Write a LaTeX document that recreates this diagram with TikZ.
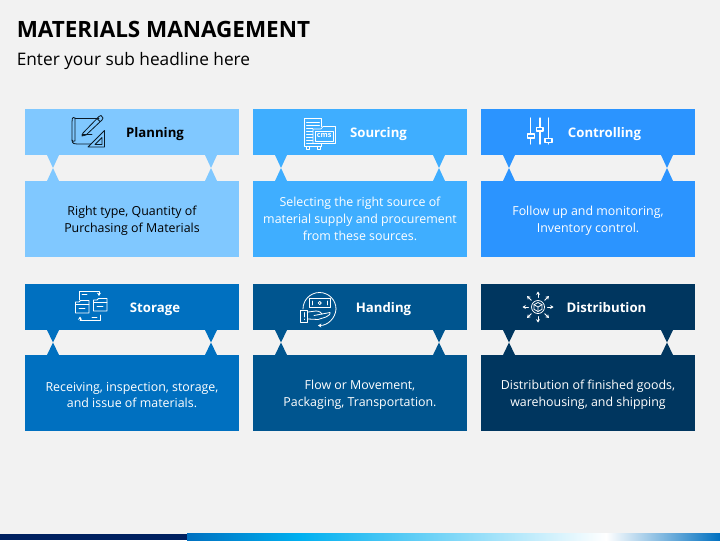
\documentclass[tikz,border=0pt]{standalone}
\usepackage{fontspec}
\setmainfont{Open Sans}
\usetikzlibrary{arrows.meta,calc}
\definecolor{bgc}{HTML}{F2F2F2}
\definecolor{cA}{HTML}{80C8FF}
\definecolor{cB}{HTML}{3FAEFF}
\definecolor{cC}{HTML}{2B94FF}
\definecolor{cD}{HTML}{0070C0}
\definecolor{cE}{HTML}{00558F}
\definecolor{cF}{HTML}{00365F}
\definecolor{inkA}{HTML}{0B1A26}
\definecolor{sN}{HTML}{002060}
\definecolor{sA}{HTML}{0070C0}
\definecolor{sB}{HTML}{00B0F0}
\definecolor{sC}{HTML}{FFFFFF}
\tikzset{
  headbox/.style={anchor=north west,minimum width=160.5pt,minimum height=34.5pt,inner sep=0pt,outer sep=0pt},
  bodybox/.style={anchor=north west,minimum width=160.5pt,minimum height=57pt,inner sep=0pt,outer sep=0pt},
  bodytext/.style={inner sep=0pt,align=center,text=white,font=\fontsize{9.3pt}{12.6pt}\selectfont},
  headtext/.style={inner sep=0pt,text=white,font=\fontsize{9.9pt}{12pt}\selectfont\bfseries},
  icon/.style={line width=0.6pt,line join=round,line cap=round}
}
% bow tie at centre x, between y-top and y-bottom (pixels)
\newcommand{\tiepair}[4]{\fill[#4] (#1-6,#2) -- (#1+6,#2) -- (#1,{(#2+#3)/2}) -- (#1+6,#3) -- (#1-6,#3) -- (#1,{(#2+#3)/2}) -- cycle;}
\begin{document}
\begin{tikzpicture}[x=0.75pt,y=-0.75pt]
\useasboundingbox (0,0) rectangle (720,540);
\fill[bgc] (0,0) rectangle (720,540);
% title
\node[anchor=west,inner sep=0pt,font=\fontsize{16.85pt}{20pt}\selectfont\bfseries,text=black] (title) at (16.5,29) {MATERIALS MANAGEMENT};
\node[anchor=west,inner sep=0pt,font=\fontsize{12.95pt}{15pt}\selectfont,text=black] (subtitle) at (16.5,61.5) {Enter your sub headline here};
% row 1
\node[headbox,fill=cA] (h1) at (25,109) {};
\node[headbox,fill=cB] (h2) at (253,109) {};
\node[headbox,fill=cC] (h3) at (481,109) {};
\node[bodybox,fill=cA] (b1) at (25,181) {};
\node[bodybox,fill=cB] (b2) at (253,181) {};
\node[bodybox,fill=cC] (b3) at (481,181) {};
\node[bodytext,text=black] (bt1) at (132,221) {Right type, Quantity of\\Purchasing of Materials};
\node[bodytext] (bt2) at (360,219) {Selecting the right source of\\material supply and procurement\\from these sources.};
\node[bodytext] (bt3) at (588,221) {Follow up and monitoring,\\Inventory control.};
% row 2
\node[headbox,fill=cD] (h4) at (25,284) {};
\node[headbox,fill=cE] (h5) at (253,284) {};
\node[headbox,fill=cF] (h6) at (481,284) {};
\node[bodybox,fill=cD] (b4) at (25,355) {};
\node[bodybox,fill=cE] (b5) at (253,355) {};
\node[bodybox,fill=cF] (b6) at (481,355) {};
\node[bodytext] (bt4) at (132,395) {Receiving, inspection, storage,\\and issue of materials.};
\node[bodytext] (bt5) at (360,395) {Flow or Movement,\\Packaging, Transportation.};
\node[bodytext] (bt6) at (588,395) {Distribution of finished goods,\\warehousing, and shipping};
% bow ties
\tiepair{53}{155}{181}{cA}\tiepair{211}{155}{181}{cA}
\tiepair{281}{155}{181}{cB}\tiepair{439}{155}{181}{cB}
\tiepair{509}{155}{181}{cC}\tiepair{667}{155}{181}{cC}
\tiepair{53}{330}{355}{cD}\tiepair{211}{330}{355}{cD}
\tiepair{281}{330}{355}{cE}\tiepair{439}{330}{355}{cE}
\tiepair{509}{330}{355}{cF}\tiepair{667}{330}{355}{cF}
% heading labels
\node[headtext,text=black] (t1) at (155,134) {Planning};
\node[headtext] (t2) at (378.5,134) {Sourcing};
\node[headtext] (t3) at (604.5,134) {Controlling};
\node[headtext] (t4) at (155,309) {Storage};
\node[headtext] (t5) at (383.5,309) {Handing};
\node[headtext] (t6) at (606.5,307.5) {Distribution};
% icon: planning
\begin{scope}[icon,draw=inkA]
\draw (75,118) -- (99,118);
\draw (75,118) .. controls (72,116) and (72,120) .. (72,122) -- (72,140) .. controls (72,144) and (75,144) .. (77,144) -- (91,144);
\draw (75,118) -- (75,141) .. controls (73,141) and (72,142) .. (72,140);
\draw (83,133) -- (99,116.5) -- (101,115.5) -- (103,118) -- (102,120) -- (86,135) -- (82,136) -- cycle;
\draw (97,118.5) -- (100,121.5);
\draw (82,134) -- (92,134);
\fill[cA] (88,147) -- (104.5,130.5) -- (104.5,147) -- cycle;
\draw (88,147) -- (104.5,130.5) -- (104.5,147) -- cycle;
\draw (95,144.5) -- (102,137.5) -- (102,144.5) -- cycle;
\end{scope}
% icon: sourcing
\begin{scope}[icon,draw=white,line width=0.5pt]
\draw (304.5,118.5) rectangle (321.5,146.5);
\foreach \yy in {122,125,128,131,134,137,140,143}{\draw (306.5,\yy) -- (319.5,\yy);}
\draw (306,146.5) -- (306,149) -- (309,149) -- (309,146.5);
\draw (317,146.5) -- (317,149) -- (320,149) -- (320,146.5);
\fill[cB] (312.5,127) rectangle (336,143.5);
\draw (313,143.5) -- (313,129) -- (321,129) -- (323,126.5) -- (335.5,126.5) -- (335.5,143.5) -- cycle;
\draw (315.5,131) rectangle (333,141);
\end{scope}
\node[inner sep=0pt,text=white,font=\fontsize{5.5pt}{6pt}\selectfont\bfseries] (cms) at (324.2,135.5) {cms};
% icon: controlling
\begin{scope}[icon,draw=white,line width=1pt,fill=cC]
\draw (530.8,118) -- (530.8,144);
\draw (540,118) -- (540,144);
\draw (548.3,118) -- (548.3,144);
\filldraw (527.5,134) rectangle (534.5,138);
\filldraw (536.5,127.5) rectangle (543,131);
\filldraw (545,138.5) rectangle (552,142.5);
\end{scope}
% icon: storage
\begin{scope}[icon,draw=white,line width=0.6pt]
\draw (75.5,313) -- (75.5,302) -- (79,302) -- (80.5,300.5) -- (89,300.5) -- (89,313) -- cycle;
\draw (75.5,304) -- (89,304);
\draw (93.5,311) -- (93.5,300) -- (97,300) -- (98.5,298.5) -- (107,298.5) -- (107,311) -- cycle;
\draw (93.5,302) -- (107,302);
\draw (79.5,300) -- (79.5,291.5) -- (99,291.5);
\draw[-{Stealth[length=2.5pt,width=3pt]}] (99,291.5) -- (99,296);
\draw (100,315) -- (100,320.5) -- (80,320.5);
\draw[-{Stealth[length=2.5pt,width=3pt]}] (80,320.5) -- (80,316.5);
\draw (82,294.5) -- (87,294.5) (79,308.5) -- (85,308.5) (97,306.5) -- (103,306.5) (92,317.5) -- (97,317.5);
\end{scope}
% icon: handing
\begin{scope}[icon,draw=white,line width=0.6pt]
\draw (309.5,298.5) rectangle (330,307.5);
\draw (319.7,303) circle (1.6);
\draw (312,301) -- (312,305) (327.5,301) -- (327.5,305);
\draw (303,309) arc (180:360:16.5);
\draw[-{Stealth[length=2.5pt,width=3pt]}] (336,309) .. controls (335.5,318) and (328,325.5) .. (318,325.5);
\draw (300.5,310.5) rectangle (307.5,322);
\draw (303.9,312.5) -- (303.9,317) (303.9,319) -- (303.9,319.6);
\draw (308,312) -- (316,311) .. controls (320,311) and (321,313) .. (322,314) -- (330,312.5) .. controls (331,314) and (328,316) .. (326,317) -- (318,319.5) -- (308,319);
\draw (314,315.5) -- (322,314);
\end{scope}
% icon: distribution
\begin{scope}[icon,draw=white,line width=0.6pt]
\draw (538,307) circle (6.5);
\draw (538,302.5) -- (542,304.7) -- (542,309.3) -- (538,311.5) -- (534,309.3) -- (534,304.7) -- cycle;
\draw (534,304.7) -- (538,307) -- (542,304.7) (538,307) -- (538,311.5);
\foreach \ang in {0,45,...,315}{
  \draw[-{Stealth[length=2.5pt,width=3pt]}] ($(538,307)+(\ang:9.5)$) -- ($(538,307)+(\ang:15.5)$);
}
\end{scope}
% bottom band
\fill[sN] (0,533.5) rectangle (187,540);
\shade[left color=sA,right color=sB] (187,533.5) rectangle (300,540);
\shade[left color=sB,right color=sC] (300,533.5) rectangle (606,540);
\shade[left color=sC,right color=sA] (606,533.5) rectangle (720,540);
\end{tikzpicture}
\end{document}
